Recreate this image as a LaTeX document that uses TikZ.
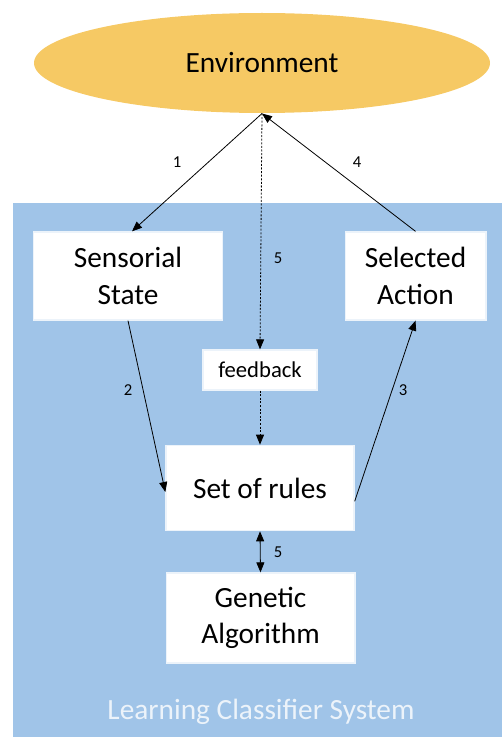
\documentclass[tikz,border=0pt]{standalone}
\usepackage{fontspec}
\setmainfont{Carlito}
\usetikzlibrary{arrows.meta,shapes.geometric}

\definecolor{envgold}{RGB}{246,201,100}
\definecolor{lcsblue}{RGB}{160,196,232}
\definecolor{lcstext}{RGB}{236,243,250}

\tikzset{every picture/.style={line width=0.75pt}}
\tikzset{
  bigfont/.style={font=\fontsize{22}{27.5}\selectfont},
  box/.style={bigfont, fill=white, draw=white!80!lcsblue, line width=1pt, inner sep=0pt, align=center},
  num/.style={font=\fontsize{12.5}{14}\selectfont},
  link/.style={-{Triangle[length=7.5pt,width=6pt]}, line width=0.6pt},
  fbline/.style={link, dash pattern=on 1.5pt off 1.2pt},
}

\begin{document}
\begin{tikzpicture}[x=0.75pt,y=0.75pt,yscale=-1,xscale=1]
\useasboundingbox (0,0) rectangle (502,738);

%Shape: Rectangle [id:lcs]
\fill [lcsblue] (13,203) rectangle (502,737) ;

%Shape: Ellipse [id:env]
\node [ellipse, fill=envgold, minimum width=342pt, minimum height=75pt, bigfont] (env) at (262,63) {Environment};

%Shape: Rectangle [id:sens]
\node [box, minimum width=141.5pt, minimum height=66pt] (sens) at (128,276) {Sensorial\\State};
%Shape: Rectangle [id:act]
\node [box, minimum width=105.5pt, minimum height=66pt] (act) at (415.5,276) {Selected\\Action};
%Shape: Rectangle [id:fb]
\node [box, font=\fontsize{17}{20}\selectfont, minimum width=85.5pt, minimum height=30pt] (fb) at (260,370) {feedback};
%Shape: Rectangle [id:rules]
\node [box, minimum width=141pt, minimum height=64pt] (rules) at (260,488) {Set of rules};
%Shape: Rectangle [id:ga]
\node [box, minimum width=141.5pt, minimum height=67.5pt] (ga) at (260.5,618) {Genetic\\Algorithm};

%Straight Lines [id:l1]
\draw [link] (env.south) -- ([xshift=3pt]sens.north) ;
%Straight Lines [id:l4]
\draw [link] (act.north) -- (env.south) ;
%Straight Lines [id:l5a]
\draw [fbline] (env.south) -- (fb.north) ;
%Straight Lines [id:l5b]
\draw [fbline] (fb.south) -- (rules.north) ;
%Straight Lines [id:l2]
\draw [link] (sens.south) -- ([yshift=3pt]rules.west) ;
%Straight Lines [id:l3]
\draw [link] ([yshift=10pt]rules.east) -- (act.south) ;
%Straight Lines [id:l5c]
\draw [{Triangle[length=7.5pt,width=6pt]}-{Triangle[length=7.5pt,width=6pt]}, line width=0.6pt] (rules.south) -- (ga.north) ;

% Text Node
\node [num] (n1) at (177,162) {1};
% Text Node
\node [num] (n4) at (357,162) {4};
% Text Node
\node [num] (n5a) at (278,258) {5};
% Text Node
\node [num] (n2) at (128,390) {2};
% Text Node
\node [num] (n3) at (403,390) {3};
% Text Node
\node [num] (n5b) at (278,552) {5};
% Text Node
\node [bigfont, text=lcstext] (lcs) at (261,712) {Learning Classifier System};

\end{tikzpicture}
\end{document}
